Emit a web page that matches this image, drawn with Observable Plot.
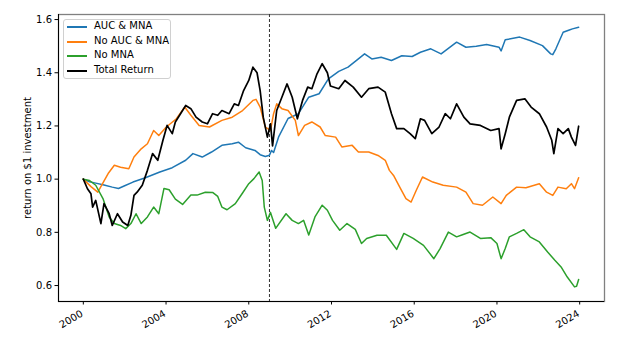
<!DOCTYPE html>
<html>
<head>
<meta charset="utf-8">
<script src="https://cdn.jsdelivr.net/npm/d3@7"></script>
<script src="https://cdn.jsdelivr.net/npm/@observablehq/plot@0.6"></script>
<style>
  body { margin: 0; background: #fff; font-family: "DejaVu Sans", sans-serif; }
  #wrap { position: relative; width: 626px; height: 350px; }
  #legend { position: absolute; left: 63px; top: 19px; width: 108px; height: 60px;
    border: 1px solid #d0d0d0; border-radius: 3px; background: rgba(255,255,255,0.85);
    box-sizing: border-box; font-size: 10px; color: #000; }
  .item { position: absolute; left: 0; height: 12px; width: 100%; }
  .item .sw { position: absolute; left: 3px; top: 5px; width: 20px; height: 0; border-top: 2px solid; }
  .item .lb { position: absolute; left: 30px; top: -1px; white-space: nowrap; line-height: 12px; }
</style>
</head>
<body>
<div id="wrap"><div id="legend"></div></div>
<script>
// ---- data (x = decimal year) ----
const seriesNames = ["AUC & MNA", "No AUC & MNA", "No MNA", "Total Return"];
const seriesColors = ["#1f77b4", "#ff7f0e", "#2ca02c", "#000000"];

const aucMna = [
  [2000.0,1.000],[2000.3,0.990],[2000.6,0.985],[2001.0,0.978],[2001.4,0.970],[2001.7,0.965],[2002.0,0.975],
  [2002.4,0.989],[2003.0,1.005],[2003.7,1.027],[2004.3,1.043],[2004.95,1.071],[2005.3,1.096],[2005.75,1.083],
  [2006.2,1.102],[2006.7,1.127],[2007.2,1.133],[2007.5,1.139],[2007.85,1.118],[2008.3,1.108],[2008.55,1.092],
  [2008.8,1.085],[2009.0,1.090],[2009.1,1.108],[2009.2,1.100],[2009.45,1.160],[2009.9,1.228],[2010.4,1.246],
  [2010.9,1.308],[2011.4,1.321],[2011.85,1.377],[2012.35,1.405],[2012.8,1.421],[2013.3,1.452],[2013.6,1.471],
  [2013.95,1.452],[2014.4,1.458],[2014.9,1.446],[2015.4,1.464],[2015.9,1.461],[2016.3,1.477],[2016.8,1.490],
  [2017.3,1.471],[2018.05,1.515],[2018.5,1.496],[2019.0,1.500],[2019.5,1.506],[2020.1,1.496],[2020.2,1.482],
  [2020.4,1.524],[2021.1,1.534],[2021.6,1.521],[2022.2,1.502],[2022.6,1.471],[2022.7,1.468],[2022.85,1.490],
  [2023.2,1.552],[2023.5,1.561],[2023.65,1.565],[2023.95,1.571]
];
const noAucMna = [
  [2000.0,1.000],[2000.37,0.972],[2000.7,0.951],[2000.93,0.983],[2001.2,1.021],[2001.5,1.052],[2001.8,1.045],
  [2002.2,1.039],[2002.45,1.083],[2002.8,1.114],[2003.1,1.133],[2003.4,1.183],[2003.65,1.164],[2004.0,1.195],
  [2004.5,1.227],[2004.9,1.271],[2005.2,1.240],[2005.6,1.202],[2006.1,1.196],[2006.7,1.221],[2007.2,1.233],
  [2007.7,1.258],[2008.2,1.296],[2008.35,1.300],[2008.55,1.271],[2008.8,1.196],[2009.05,1.183],[2009.2,1.246],
  [2009.35,1.283],[2009.6,1.265],[2009.9,1.258],[2010.25,1.221],[2010.4,1.164],[2010.7,1.202],[2011.05,1.215],
  [2011.45,1.196],[2011.7,1.164],[2012.2,1.158],[2012.5,1.121],[2013.0,1.127],[2013.3,1.102],[2013.8,1.102],
  [2014.25,1.089],[2014.6,1.071],[2014.8,1.033],[2015.0,1.014],[2015.3,0.970],[2015.6,0.927],[2015.85,0.914],
  [2016.1,0.958],[2016.4,1.008],[2016.9,0.989],[2017.4,0.977],[2018.05,0.970],[2018.5,0.951],[2018.85,0.908],
  [2019.3,0.902],[2019.8,0.933],[2020.2,0.908],[2020.45,0.939],[2020.95,0.970],[2021.4,0.968],[2022.05,0.983],
  [2022.4,0.951],[2022.7,0.939],[2022.95,0.970],[2023.35,0.964],[2023.6,0.983],[2023.75,0.964],[2023.95,1.005]
];
const noMna = [
  [2000.0,1.000],[2000.3,0.995],[2000.6,0.977],[2000.95,0.927],[2001.25,0.858],[2001.5,0.833],[2001.8,0.826],
  [2002.05,0.814],[2002.3,0.833],[2002.55,0.870],[2002.8,0.833],[2003.1,0.858],[2003.4,0.895],[2003.65,0.870],
  [2003.9,0.965],[2004.15,0.960],[2004.45,0.925],[2004.8,0.905],[2005.2,0.940],[2005.5,0.940],[2005.9,0.951],
  [2006.25,0.950],[2006.5,0.935],[2006.7,0.895],[2006.95,0.885],[2007.35,0.908],[2007.7,0.948],[2008.0,0.983],
  [2008.25,1.002],[2008.5,1.027],[2008.65,0.995],[2008.75,0.895],[2008.9,0.845],[2009.05,0.875],[2009.3,0.815],
  [2009.8,0.870],[2010.1,0.845],[2010.4,0.833],[2010.65,0.845],[2010.9,0.790],[2011.2,0.858],[2011.55,0.902],
  [2011.8,0.883],[2012.05,0.845],[2012.4,0.808],[2012.75,0.833],[2013.15,0.811],[2013.45,0.758],[2013.7,0.777],
  [2014.2,0.789],[2014.65,0.789],[2015.15,0.736],[2015.5,0.796],[2015.95,0.777],[2016.45,0.751],[2016.95,0.701],
  [2017.25,0.739],[2017.65,0.801],[2018.05,0.783],[2018.3,0.790],[2018.7,0.801],[2019.2,0.777],[2019.7,0.780],
  [2020.0,0.758],[2020.2,0.701],[2020.4,0.739],[2020.6,0.783],[2020.95,0.796],[2021.3,0.810],[2021.6,0.783],
  [2022.05,0.764],[2022.45,0.726],[2022.8,0.695],[2023.1,0.670],[2023.4,0.632],[2023.75,0.595],[2023.85,0.597],
  [2023.95,0.623]
];
const totalReturn = [
  [2000.0,1.000],[2000.2,0.964],[2000.37,0.945],[2000.45,0.895],[2000.6,0.920],[2000.85,0.833],[2001.0,0.908],
  [2001.25,0.870],[2001.4,0.826],[2001.65,0.870],[2001.9,0.839],[2002.15,0.826],[2002.3,0.864],[2002.45,0.939],
  [2002.6,0.951],[2002.85,0.977],[2003.1,1.033],[2003.35,1.096],[2003.6,1.071],[2003.85,1.146],[2004.05,1.202],
  [2004.3,1.171],[2004.45,1.215],[2004.7,1.246],[2004.95,1.277],[2005.2,1.265],[2005.45,1.233],[2005.75,1.215],
  [2006.0,1.208],[2006.25,1.246],[2006.5,1.240],[2006.7,1.258],[2007.05,1.246],[2007.3,1.283],[2007.5,1.277],
  [2007.75,1.333],[2008.0,1.371],[2008.2,1.421],[2008.4,1.400],[2008.55,1.333],[2008.7,1.233],[2008.9,1.158],
  [2009.05,1.208],[2009.15,1.125],[2009.35,1.258],[2009.6,1.308],[2009.85,1.358],[2010.1,1.308],[2010.35,1.227],
  [2010.6,1.296],[2010.85,1.346],[2011.05,1.340],[2011.3,1.396],[2011.55,1.434],[2011.8,1.400],[2011.95,1.350],
  [2012.35,1.340],[2012.65,1.371],[2013.05,1.346],[2013.45,1.308],[2013.8,1.340],[2014.25,1.346],[2014.6,1.327],
  [2014.9,1.246],[2015.15,1.190],[2015.5,1.190],[2015.8,1.171],[2016.05,1.152],[2016.3,1.227],[2016.5,1.221],
  [2016.85,1.171],[2017.2,1.196],[2017.5,1.246],[2017.75,1.227],[2018.05,1.283],[2018.4,1.233],[2018.7,1.208],
  [2019.2,1.202],[2019.7,1.183],[2020.1,1.190],[2020.2,1.114],[2020.4,1.171],[2020.6,1.233],[2020.95,1.296],
  [2021.35,1.302],[2021.65,1.271],[2022.05,1.246],[2022.4,1.196],[2022.65,1.146],[2022.75,1.096],[2022.95,1.190],
  [2023.2,1.171],[2023.45,1.190],[2023.6,1.158],[2023.8,1.127],[2023.95,1.199]
];

const xTicks = [2000, 2004, 2008, 2012, 2016, 2020, 2024];
const yTicks = [0.6, 0.8, 1.0, 1.2, 1.4, 1.6];
const eventYear = 2009.0;
const yLabel = "return on $1 investment";
const xDomain = [1998.8, 2025.2];
const yDomain = [0.540, 1.619];

// ---- build ----
const allSeries = [aucMna, noAucMna, noMna, totalReturn];
const lineMarks = allSeries.map((s, i) =>
  Plot.line(s.map(([year, value]) => ({year, value})), {
    x: "year", y: "value", stroke: seriesColors[i], strokeWidth: i === 3 ? 1.7 : 1.5, curve: "linear"
  })
);

const chart = Plot.plot({
  width: 626, height: 350,
  marginLeft: 58, marginRight: 22, marginTop: 14, marginBottom: 49,
  style: { fontFamily: "DejaVu Sans", fontSize: "10px", background: "white", color: "black" },
  x: { type: "linear", domain: xDomain },
  y: { domain: yDomain },
  marks: [
    Plot.frame({ stroke: "#808080", strokeWidth: 1.3 }),
    Plot.ruleX([eventYear], { stroke: "#333", strokeDasharray: "3,2", strokeWidth: 1 }),
    ...lineMarks,
    Plot.ruleX([xDomain[0]], { stroke: "black", strokeWidth: 1 }),
    Plot.ruleY([yDomain[0]], { stroke: "black", strokeWidth: 1 }),
    Plot.axisY({ ticks: yTicks, tickSize: 3.5, tickPadding: 3, tickFormat: d => d.toFixed(1), label: null, fontSize: 10 }),
    Plot.axisX({ ticks: xTicks, tickSize: 3.5, tickFormat: () => "", label: null }),
    Plot.text(xTicks, { x: d => d, frameAnchor: "bottom", text: d => String(d), rotate: -30,
      textAnchor: "end", lineAnchor: "top", dx: -3, dy: 8, fontSize: 10 }),
    Plot.text([yLabel], { frameAnchor: "left", dx: -31, rotate: -90, textAnchor: "middle",
      lineAnchor: "middle", fontSize: 10 })
  ]
});
document.getElementById("wrap").prepend(chart);

const legend = document.getElementById("legend");
seriesNames.forEach((name, i) => {
  const it = document.createElement("div");
  it.className = "item";
  it.style.top = (1 + i * 14.6) + "px";
  it.innerHTML = `<span class="sw" style="border-color:${seriesColors[i]}"></span><span class="lb"></span>`;
  it.querySelector(".lb").textContent = name;
  legend.appendChild(it);
});
</script>
</body>
</html>
